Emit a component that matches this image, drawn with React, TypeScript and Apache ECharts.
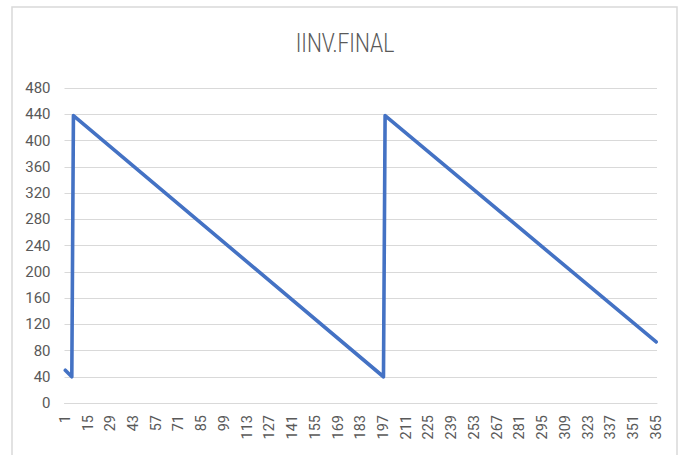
import React, { useEffect, useRef } from "react";
import * as echarts from "echarts";

const days: string[] = Array.from({ length: 365 }, (_, i) => String(i + 1));
const keyDays: string[] = ["1", "5", "6", "197", "198", "365"];
const keyValues: number[] = [50, 40, 438, 40, 438, 93];
const yTicks = { min: 0, max: 480, interval: 40 };
const title = "IINV.FINAL";

export default function App() {
  const ref = useRef<HTMLDivElement>(null);
  useEffect(() => {
    if (!ref.current) return;
    const chart = echarts.init(ref.current, undefined, { renderer: "svg" });
    const font = "Roboto, 'Open Sans', sans-serif";
    chart.setOption({
      animation: false,
      backgroundColor: "#ffffff",
      graphic: [
        {
          type: "rect",
          z: -10,
          silent: true,
          shape: { x: 12, y: 7, width: 665, height: 470 },
          style: { fill: "#ffffff", stroke: "#d9d9d9", lineWidth: 1.5 },
        },
        {
          type: "text",
          x: 345,
          y: 44,
          scaleX: 0.84,
          style: {
            text: title,
            fill: "#595959",
            fontFamily: font,
            fontWeight: 300,
            fontSize: 25,
            textAlign: "center",
            textVerticalAlign: "middle",
          },
        },
      ],
      grid: { left: 64.5, right: 35, top: 88, bottom: 52, containLabel: false },
      xAxis: {
        type: "category",
        data: days,
        boundaryGap: true,
        axisLine: { show: true, lineStyle: { color: "#d9d9d9", width: 1 } },
        axisTick: { show: false },
        splitLine: { show: false },
        axisLabel: {
          interval: 13,
          rotate: 90,
          margin: 12,
          color: "#595959",
          fontSize: 14.5,
          fontFamily: font,
        },
      },
      yAxis: {
        type: "value",
        min: yTicks.min,
        max: yTicks.max,
        interval: yTicks.interval,
        axisLine: { show: false },
        axisTick: { show: false },
        splitLine: { show: true, lineStyle: { color: "#d9d9d9", width: 1 } },
        axisLabel: {
          margin: 14,
          color: "#595959",
          fontSize: 15,
          fontFamily: font,
        },
      },
      series: [
        {
          type: "line",
          name: title,
          data: keyDays.map((d, i) => [d, keyValues[i]]),
          showSymbol: false,
          symbol: "none",
          lineStyle: { color: "#4472C4", width: 3.6, join: "round", cap: "round" },
        },
      ],
    });
    return () => chart.dispose();
  }, []);
  return (
    <div
      ref={ref}
      style={{ position: "absolute", left: 0, top: 0, width: 692, height: 455 }}
    />
  );
}
